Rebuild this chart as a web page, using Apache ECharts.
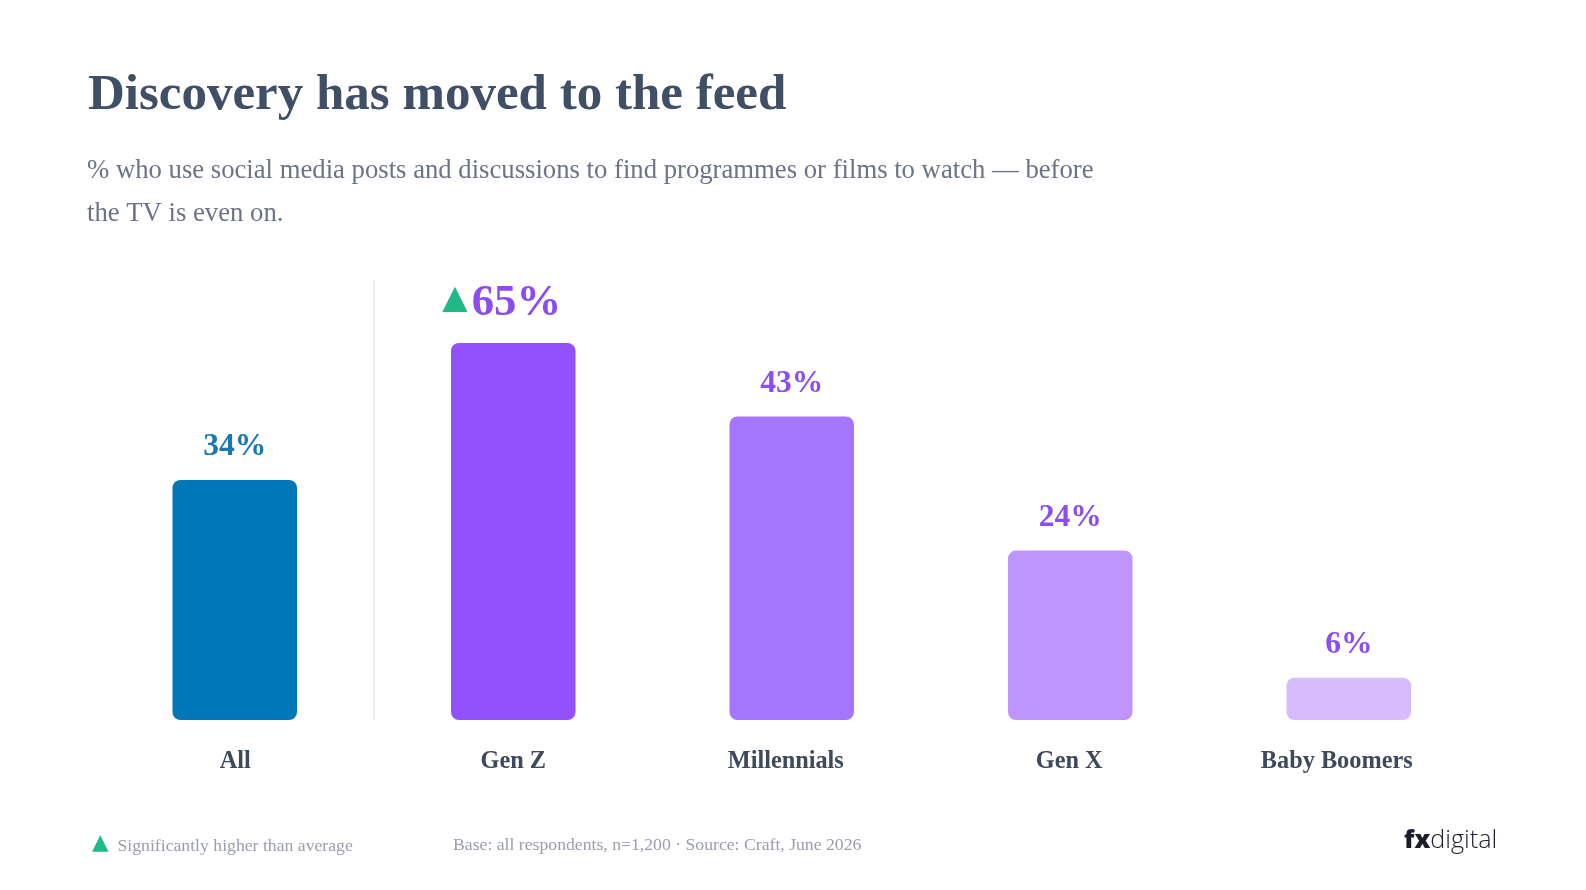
<!DOCTYPE html>
<html>
<head>
<meta charset="utf-8">
<script src="https://cdn.jsdelivr.net/npm/echarts@6/dist/echarts.min.js"></script>
<style>
  html, body { margin: 0; padding: 0; background: #ffffff; overflow: hidden; width: 100%; height: 100%; }
  #chart { width: 100vw; height: 100vh; }
</style>
</head>
<body>
<div id="chart"></div>
<script>
const categories = ['All', 'Gen Z', 'Millennials', 'Gen X', 'Baby Boomers'];
const values = [34, 65, 43, 24, 6];
const significant = [false, true, false, false, false];
const barColors = ['#0077b6', '#9350fe', '#a675fd', '#bd95fd', '#d6bcfc'];
const labelColors = ['#1878b4', '#8b4cf0', '#8b4cf0', '#8b4cf0', '#8b4cf0'];

const serif = '"Liberation Serif", "Times New Roman", serif';
const chart = echarts.init(document.getElementById('chart'));

// horizontal nudges of the category labels (styling only)
const labelNudge = [-1, 0, 12, 2, 24];
const catLabelStyle = { fontFamily: serif, fontSize: 24.3, fontWeight: 'bold', color: '#3d4a5c' };
const catRich = {};
labelNudge.forEach((p, i) => {
  catRich['c' + i] = Object.assign({}, catLabelStyle, { padding: p >= 0 ? [0, p, 0, 0] : [0, 0, 0, -p] });
});

const option = {
  backgroundColor: '#ffffff',
  animation: false,
  title: [
    {
      text: 'Discovery has moved to the feed',
      left: 83, top: 65,
      textStyle: { fontFamily: serif, fontSize: 51, fontWeight: 'bold', color: '#3f4f66' }
    },
    {
      text: '% who use social media posts and discussions to find programmes or films to watch — before\nthe TV is even on.',
      left: 82, top: 145,
      textStyle: { fontFamily: serif, fontSize: 26.7, fontWeight: 'normal', color: '#6b7385', lineHeight: 42.5 }
    }
  ],
  grid: { left: 95.5, right: 98, top: 343, bottom: 170, containLabel: false },
  xAxis: {
    type: 'category',
    data: categories,
    axisLine: { show: false },
    axisTick: { show: false },
    axisLabel: Object.assign({
      margin: 30,
      formatter: (val, idx) => '{c' + idx + '|' + val + '}',
      rich: catRich
    }, catLabelStyle)
  },
  yAxis: {
    type: 'value', min: 0, max: 53.4,
    show: false,
    splitLine: { show: false }
  },
  series: [{
    type: 'bar',
    clip: true,
    barWidth: 124.5,
    data: values.map((v, i) => ({
      value: v,
      itemStyle: { color: barColors[i], borderRadius: [8, 8, 8, 8] },
      label: {
        show: true,
        position: 'top',
        distance: 17,
        formatter: significant[i] ? '{tri|▲}{big|' + v + '%}' : '{n|' + v + '%}',
        rich: {
          n: { fontFamily: serif, fontSize: 31.5, fontWeight: 'bold', color: labelColors[i] },
          big: { fontFamily: serif, fontSize: 44.8, fontWeight: 'bold', color: labelColors[i], padding: [0, 23, 0, 4] },
          tri: { fontFamily: '"DejaVu Sans", sans-serif', fontSize: 33, color: '#20b985', padding: [0, 0, 9, 0] }
        }
      }
    }))
  }],
  graphic: [
    {
      type: 'text', left: 92, top: 832,
      style: { text: '▲', fontFamily: '"DejaVu Sans", sans-serif', fontSize: 21.5, fill: '#20b985' }
    },
    {
      type: 'text', left: 117.5, top: 837,
      style: { text: 'Significantly higher than average', fontFamily: serif, fontSize: 17.7, fill: '#9a9eab' }
    },
    {
      type: 'text', left: 453, top: 836,
      style: { text: 'Base: all respondents, n=1,200 · Source: Craft, June 2026', fontFamily: serif, fontSize: 17.7, fill: '#9a9eab' }
    },
    {
      type: 'text', left: 1404, top: 828.5,
      style: {
        text: '{a|fx}{b|digital}',
        rich: {
          a: { fontFamily: '"Open Sans", Lato, sans-serif', fontSize: 25.2, fontWeight: 800, fill: '#1b1d2b' },
          b: { fontFamily: '"Open Sans", Lato, sans-serif', fontSize: 25.2, fontWeight: 300, fill: '#1b1d2b' }
        }
      }
    }
  ]
};
chart.setOption(option);

// separator line at the boundary between the first and second category
const p0 = chart.convertToPixel({ xAxisIndex: 0 }, categories[0]);
const p1 = chart.convertToPixel({ xAxisIndex: 0 }, categories[1]);
const base = chart.convertToPixel({ yAxisIndex: 0 }, 0);
const sepX = (p0 + p1) / 2;
chart.setOption({
  graphic: option.graphic.concat([{
    type: 'line',
    shape: { x1: sepX, y1: 280, x2: sepX, y2: base },
    style: { stroke: '#e6e8ee', lineWidth: 1.5 }
  }])
});
window.addEventListener('resize', () => chart.resize());
</script>
</body>
</html>
